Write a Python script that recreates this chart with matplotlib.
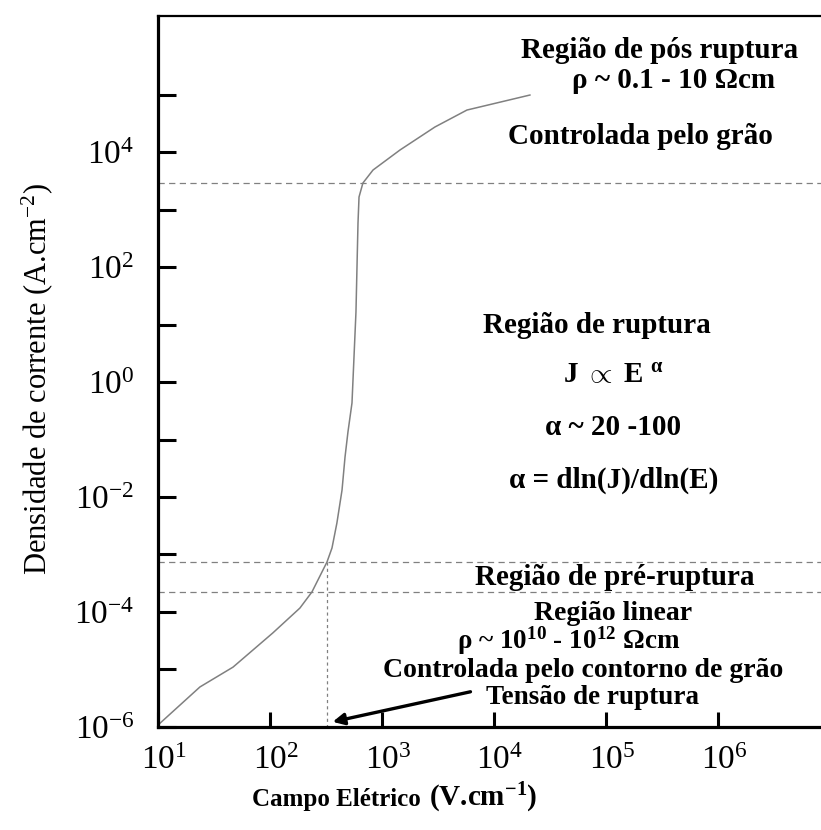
"""Curva J x E de varistor: regiões linear, pré-ruptura, ruptura e pós ruptura."""

import matplotlib

matplotlib.use("Agg")
import matplotlib.pyplot as plt
import matplotlib.transforms as mtransforms
from matplotlib.ticker import FixedLocator, FixedFormatter, NullLocator

# curva (campo em V/cm, densidade em A/cm2)
campo = [10, 23.7, 46.8, 106, 185, 237, 323, 358, 396, 440, 468, 497, 540,
         586, 611, 624, 676, 832, 1449, 2972, 5741, 20941]
densidade = [1.08e-6, 4.97e-6, 1.10e-5, 4.32e-5, 1.17e-4, 2.23e-4, 7.41e-4,
             1.30e-3, 3.53e-3, 1.32e-2, 4.97e-2, 0.135, 0.432, 16.5, 582,
             1650, 2890, 4860, 10840, 27230, 53700, 97900]

# limites entre regiões (linhas tracejadas)
limites_j = [2890, 7.41e-4, 2.23e-4]
campo_ruptura = 323

# seta "Tensão de ruptura"
seta_origem = (6170, 4.1e-6)
seta_destino = (363, 1.23e-6)

y_ticks = [1e-6, 1e-5, 1e-4, 1e-3, 1e-2, 1e-1, 1e0, 1e1, 1e2, 1e3, 1e4, 1e5]
y_labels = ["$10^{-6}$", "", "$10^{-4}$", "", "$10^{-2}$", "", "$10^{0}$", "",
            "$10^{2}$", "", "$10^{4}$", ""]
x_ticks = [1e1, 1e2, 1e3, 1e4, 1e5, 1e6]
x_labels = ["$10^{1}$", "$10^{2}$", "$10^{3}$", "$10^{4}$", "$10^{5}$", "$10^{6}$"]

plt.rcParams["font.family"] = ["Liberation Serif", "DejaVu Serif"]
plt.rcParams["mathtext.fontset"] = "custom"
plt.rcParams["mathtext.rm"] = "Liberation Serif"
plt.rcParams["mathtext.it"] = "Liberation Serif:italic"
plt.rcParams["mathtext.bf"] = "Liberation Serif:bold"

fig = plt.figure(figsize=(8.21, 8.30), dpi=100)
ax = fig.add_axes([0.1924, 0.1241, 0.8076, 0.8566])
ax.set_xscale("log")
ax.set_yscale("log")
ax.set_xlim(10, 10 ** 6.92)
ax.set_ylim(1e-6, 10 ** 6.365)

ax.plot(campo, densidade, color="#808080", linewidth=1.1)

for j in limites_j:
    ax.axhline(j, color="#808080", linewidth=0.9, linestyle=(0, (5, 3.5)))
ax.plot([campo_ruptura, campo_ruptura], [limites_j[1], 1e-6], color="#808080",
        linewidth=0.9, linestyle=(0, (2.5, 2.5)))

ax.annotate("", xy=seta_destino, xytext=seta_origem,
            arrowprops=dict(arrowstyle="-|>", color="black", lw=2.4,
                            mutation_scale=17, shrinkA=0, shrinkB=0))

# spines / ticks
ax.spines["right"].set_visible(False)
ax.spines["left"].set_linewidth(2.3)
ax.spines["bottom"].set_linewidth(2.3)
ax.spines["top"].set_linewidth(1.6)
ax.yaxis.set_major_locator(FixedLocator(y_ticks))
ax.yaxis.set_major_formatter(FixedFormatter(y_labels))
ax.yaxis.set_minor_locator(NullLocator())
ax.xaxis.set_major_locator(FixedLocator(x_ticks))
ax.xaxis.set_major_formatter(FixedFormatter(x_labels))
ax.xaxis.set_minor_locator(NullLocator())
ax.tick_params(axis="y", direction="in", length=13, width=2.2, pad=17, labelsize=24)
ax.tick_params(axis="x", direction="in", length=11, width=2.2, pad=13, labelsize=24)
shift = mtransforms.ScaledTranslation(0.06, 0, fig.dpi_scale_trans)
for lab in ax.get_xticklabels():
    lab.set_transform(lab.get_transform() + shift)

ax.set_ylabel("Densidade de corrente (A.cm$^{-2}$)", fontsize=22)
ax.yaxis.set_label_coords(-0.155, 0.49)
fig.text(0.512, 0.029, "Campo Elétrico", ha="right", va="baseline",
         fontsize=18, fontweight="bold")
fig.text(0.522, 0.029, "(V.cm$^{\\mathbf{-1}}$)", ha="left", va="baseline",
         fontsize=21, fontweight="bold")

kw = dict(transform=ax.transAxes, ha="center", va="center", fontweight="bold")
ax.text(0.756, 0.952, "Região de pós ruptura", fontsize=21, **kw)
ax.text(0.778, 0.910, "ρ ~ 0.1 - 10 Ωcm", fontsize=21, **kw)
ax.text(0.728, 0.830, "Controlada pelo grão", fontsize=21, **kw)
ax.text(0.662, 0.565, "Região de ruptura", fontsize=21, **kw)
ax.text(0.686, 0.495, "J $\\propto$ E $^{\\mathbf{α}}$", fontsize=21, **kw)
ax.text(0.686, 0.421, "α ~ 20 -100", fontsize=21, **kw)
ax.text(0.688, 0.347, "α = dln(J)/dln(E)", fontsize=21, **kw)
ax.text(0.689, 0.210, "Região de pré-ruptura", fontsize=21, **kw)
ax.text(0.686, 0.160, "Região linear", fontsize=20, **kw)
ax.text(0.620, 0.121, "ρ ~ 10$^{\\mathbf{10}}$ - 10$^{\\mathbf{12}}$ Ωcm", fontsize=19.5, **kw)
ax.text(0.641, 0.080, "Controlada pelo contorno de grão", fontsize=20, **kw)
ax.text(0.655, 0.042, "Tensão de ruptura", fontsize=19.5, **kw)

fig.savefig("out.png", dpi=100)
